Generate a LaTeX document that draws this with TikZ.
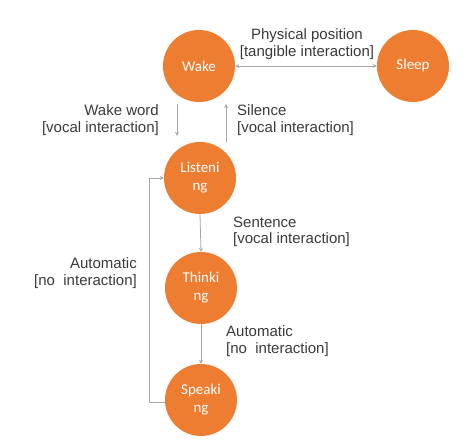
\documentclass[tikz,border=0pt]{standalone}
\usepackage{fontspec}
\setmainfont{Liberation Sans}
\newfontfamily\statefont{Carlito}
\usetikzlibrary{arrows.meta}
\definecolor{stateorange}{HTML}{ED7D31}
\definecolor{linegray}{HTML}{A6A6A6}
\definecolor{textgray}{HTML}{3A3A3A}
\tikzset{
	state/.style={circle, fill=stateorange, minimum size=72pt, inner sep=0pt, text=white, align=center, font=\statefont\fontsize{15}{18}\selectfont},
	lbl/.style={text=textgray, inner sep=0pt, font=\fontsize{15}{16.5}\selectfont},
	trans/.style={linegray, line width=.8pt, -{Stealth[length=4pt,width=4pt]}}
}
\begin{document}
	\begin{tikzpicture}[x=1pt, y=-1pt, line join=round]
		\useasboundingbox (0,0) rectangle (472,443);
		% states
		\node[state] (wake) at (199,66) {Wake};
		\node[state] (sleep) at (413,66) {Sleep};
		\node[state] (listen) at (200,178) {Listeni\\ng};
		\node[state] (think) at (201,288) {Thinki\\ng};
		\node[state] (speak) at (201,400) {Speaki\\ng};
		% transitions
		\draw[trans, {Stealth[length=4pt,width=4pt]}-{Stealth[length=4pt,width=4pt]}] (wake.east) -- (sleep.west);
		\draw[trans] ([xshift=-22pt,yshift=-2pt]wake.south) -- ([xshift=-23pt,yshift=6pt]listen.north);
		\draw[trans] ([xshift=26pt]listen.north) -- ([xshift=27pt,yshift=-2pt]wake.south);
		\draw[trans] (listen.south) -- (think.north);
		\draw[trans] (think.south) -- (speak.north);
		\draw[trans] ([yshift=-2pt]speak.west) -- ++(-15,0) coordinate (back) |- (listen.west);
		% labels
		\node[lbl, align=center] (phys) at (307,44) {Physical position\\{}[tangible interaction]};
		\node[lbl, align=right, anchor=east] (wword) at (159,120) {Wake word\\{}[vocal interaction]};
		\node[lbl, align=left, anchor=west] (sil) at (237,120) {Silence\\{}[vocal interaction]};
		\node[lbl, align=left, anchor=west] (sent) at (233,232) {Sentence\\{}[vocal interaction]};
		\node[lbl, align=left, anchor=west] (auto) at (226,341) {Automatic\\{}[no\ \ interaction]};
		\node[lbl, align=right, anchor=east] (autoback) at (137,273) {Automatic\\{}[no\ \ interaction]};
	\end{tikzpicture}
\end{document}
